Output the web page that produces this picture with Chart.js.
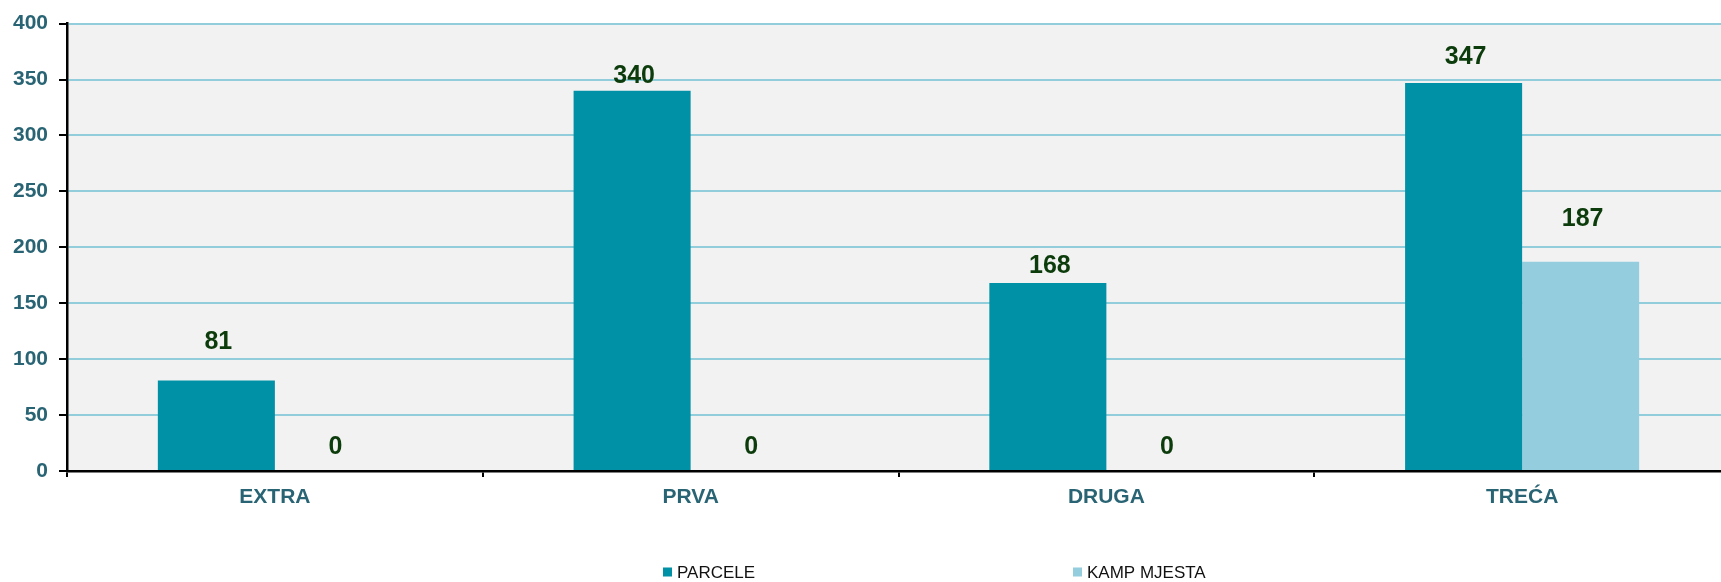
<!DOCTYPE html>
<html>
<head>
<meta charset="utf-8">
<script src="https://cdn.jsdelivr.net/npm/chart.js@4"></script>
<style>
  html, body { margin: 0; padding: 0; background: #ffffff; overflow: hidden; }
  #wrap { position: relative; width: 1730px; height: 582px; }
</style>
</head>
<body>
<div id="wrap"><canvas id="c" width="1730" height="582"></canvas></div>
<script>
const categories = ['EXTRA', 'PRVA', 'DRUGA', 'TREĆA'];
const parcele = [81, 340, 168, 347];
const kampMjesta = [0, 0, 0, 187];
const seriesNames = ['PARCELE', 'KAMP MJESTA'];
const yTicks = [0, 50, 100, 150, 200, 250, 300, 350, 400];

const FONT = '"Liberation Sans", Arial, sans-serif';
const TICK_COLOR = '#296474';

const plotBg = {
  id: 'plotBg',
  beforeDraw(chart) {
    const a = chart.chartArea, ctx = chart.ctx;
    ctx.save();
    ctx.fillStyle = '#f2f2f2';
    ctx.fillRect(a.left, a.top, a.right - a.left, a.bottom - a.top);
    ctx.restore();
  }
};

const valueLabels = {
  id: 'valueLabels',
  afterDatasetsDraw(chart, args, opts) {
    const ctx = chart.ctx;
    ctx.save();
    ctx.font = 'bold 25px ' + FONT;
    ctx.fillStyle = '#0c3c0c';
    ctx.textAlign = 'center';
    ctx.textBaseline = 'middle';
    chart.data.datasets.forEach((ds, di) => {
      const meta = chart.getDatasetMeta(di);
      meta.data.forEach((el, i) => {
        const off = opts.offsets[di][i];
        ctx.fillText(String(ds.data[i]), el.x + 2, el.y - off);
      });
    });
    ctx.restore();
  }
};

const customLegend = {
  id: 'customLegend',
  afterDraw(chart, args, opts) {
    const ctx = chart.ctx;
    ctx.save();
    ctx.font = '17px ' + FONT;
    ctx.textBaseline = 'middle';
    ctx.textAlign = 'left';
    chart.data.datasets.forEach((ds, i) => {
      const x = opts.xs[i];
      const y = opts.y;
      ctx.fillStyle = ds.backgroundColor;
      ctx.fillRect(x, y - 4.5, 9, 9);
      ctx.fillStyle = '#111111';
      ctx.fillText(ds.label, x + 14, y + 1);
    });
    ctx.restore();
  }
};

new Chart(document.getElementById('c'), {
  type: 'bar',
  data: {
    labels: categories,
    datasets: [
      { label: seriesNames[0], data: parcele, backgroundColor: '#0091a6',
        categoryPercentage: 0.563, barPercentage: 1.0 },
      { label: seriesNames[1], data: kampMjesta, backgroundColor: '#94cddd',
        categoryPercentage: 0.563, barPercentage: 1.0 }
    ]
  },
  options: {
    responsive: false,
    animation: false,
    layout: { padding: { top: 22, right: 0, bottom: 0, left: 0 } },
    plugins: {
      legend: { display: false },
      tooltip: { enabled: false },
      valueLabels: { offsets: [[38, 14.5, 16.5, 26], [24, 24, 24, 43]] },
      customLegend: { xs: [663, 1073], y: 572 }
    },
    scales: {
      x: {
        grid: { display: true, drawOnChartArea: false, tickLength: 6, tickColor: '#000000', lineWidth: 2, offset: true },
        border: { display: true, color: '#000000', width: 2.5 },
        ticks: { color: TICK_COLOR, font: { family: FONT, size: 21, weight: 'bold' }, padding: 8, maxRotation: 0 },
        afterFit(scale) { scale.height = 111; }
      },
      y: {
        min: 0, max: 400,
        afterBuildTicks(scale) { scale.ticks = yTicks.map(v => ({ value: v })); },
        grid: { color: '#92cddc', lineWidth: 2, tickLength: 8, tickColor: '#000000' },
        border: { display: true, color: '#000000', width: 2.5 },
        ticks: { color: TICK_COLOR, font: { family: FONT, size: 21, weight: 'bold' }, padding: 11 },
        afterFit(scale) { scale.width = 67; }
      }
    }
  },
  plugins: [plotBg, valueLabels, customLegend]
});
</script>
</body>
</html>
